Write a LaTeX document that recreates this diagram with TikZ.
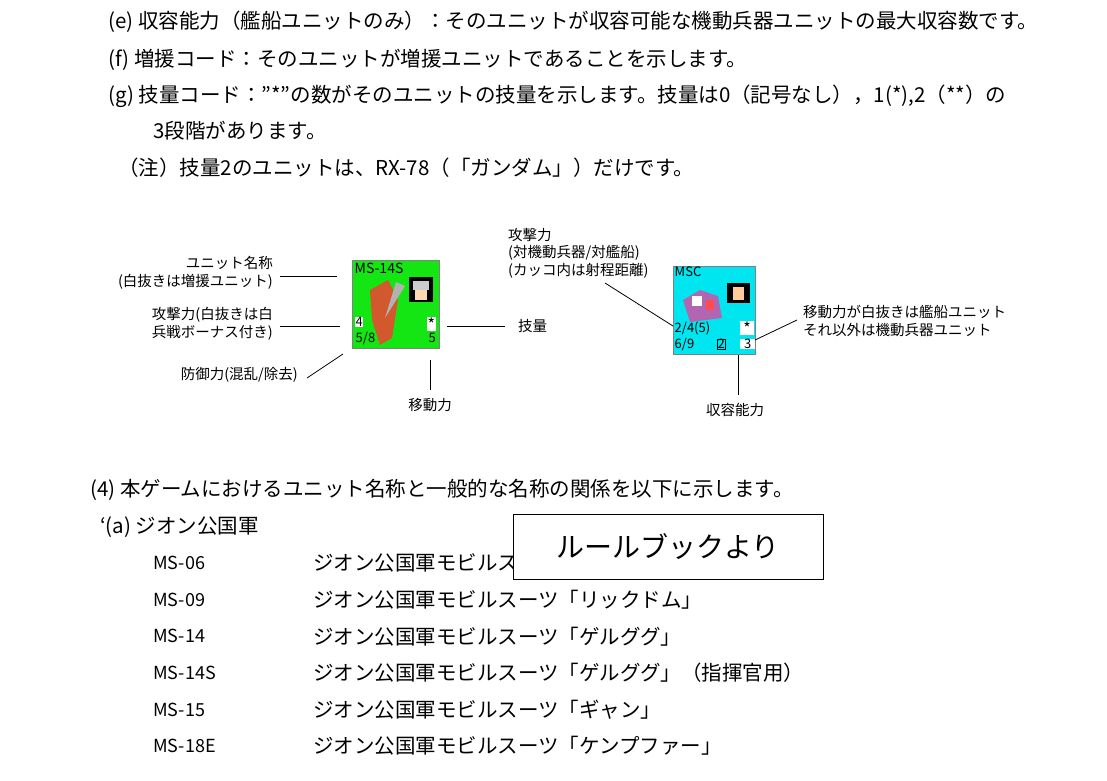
\documentclass[tikz,border=0pt]{standalone}
\usepackage{fontspec}
\setmainfont{Noto Sans CJK JP}
\usetikzlibrary{positioning}
\definecolor{unitgreen}{RGB}{20,230,20}
\definecolor{unitcyan}{RGB}{0,230,240}
\begin{document}
\begin{tikzpicture}[
      x=1pt, y=-1pt,
      body/.style={anchor=west, inner sep=0pt, font=\fontsize{20.5}{22}\selectfont},
      lbl/.style={inner sep=0pt, font=\fontsize{14.5}{17.5}\selectfont, align=left},
      val/.style={anchor=west, inner sep=0.5pt, font=\fontsize{13}{13}\selectfont},
      lead/.style={draw, line width=0.8pt}
    ]
    \useasboundingbox (0,0) rectangle (1107,780);
    % Text of the page
    \node[body] (te) at (108,22) {(e) 収容能力（艦船ユニットのみ）：そのユニットが収容可能な機動兵器ユニットの最大収容数です。};
    \node[body] (tf) at (108,60) {(f) 増援コード：そのユニットが増援ユニットであることを示します。};
    \node[body] (tg) at (108,96) {(g) 技量コード："*"の数がそのユニットの技量を示します。技量は0（記号なし），1(*),2（**）の};
    \node[body] (tg2) at (153,131) {3段階があります。};
    \node[body] (tn) at (118,168) {（注）技量2のユニットは、RX-78（「ガンダム」）だけです。};
    \node[body] (t4) at (90,490) {(4) 本ゲームにおけるユニット名称と一般的な名称の関係を以下に示します。};
    \node[body] (ta) at (100,527) {‘(a) ジオン公国軍};
    \foreach \code/\name [count=\i] in {MS-06/ジオン公国軍モビルスー,
        MS-09/ジオン公国軍モビルスーツ「リックドム」,
        MS-14/ジオン公国軍モビルスーツ「ゲルググ」,
        MS-14S/ジオン公国軍モビルスーツ「ゲルググ」（指揮官用）,
        MS-15/ジオン公国軍モビルスーツ「ギャン」,
        MS-18E/ジオン公国軍モビルスーツ「ケンプファー」} {
      \node[body, font=\fontsize{18}{20}\selectfont] (code\i) at (153,{563+36.6*(\i-1)}) {\code};
      \node[body] (name\i) at (313,{563+36.6*(\i-1)}) {\name};
    }
    \node[draw, fill=white, line width=0.8pt, minimum width=310, minimum height=65,
      font=\fontsize{28}{30}\selectfont] (rulebook) at (668,546.5) {ルールブックより};

    % First counter
    \node[draw=gray, fill=unitgreen, minimum width=87, minimum height=88, inner sep=0pt, anchor=north west] (c1) at (352,260) {};
    \fill[white] ([shift={(0.5,-0.5)}]c1.north west) rectangle ([shift={(-0.5,-15)}]c1.north east);
    \node[val, font=\fontsize{14}{14}\selectfont] (c1name) at (354,268) {MS-14S};
    \fill[black] (409,277) rectangle (433,302);
    \fill[gray!40] (413,281) rectangle (429,290);
    \fill[orange!30] (415,290) rectangle (427,300);
    \fill[brown!70!red] (370,290) -- (388,280) -- (398,300) -- (392,338) -- (380,345) -- (372,320) -- cycle;
    \fill[gray!60] (396,282) -- (405,286) -- (385,318) -- cycle;
    \node[val, fill=white] (c1atk) at (355,322) {4};
    \node[val] (c1def) at (355,338) {5/8};
    \node[val, fill=white, font=\fontsize{16}{16}\selectfont] (c1skl) at (427,324) {*};
    \node[val] (c1mov) at (428,338) {5};
    \node[lbl, align=right, anchor=east] (l1name) at (273,273) {ユニット名称\\(白抜きは増援ユニット)};
    \node[lbl, align=right, anchor=east] (l1atk) at (273,324) {攻撃力(白抜きは白\\兵戦ボーナス付き)};
    \node[lbl, anchor=east] (l1def) at (298,375) {防御力(混乱/除去)};
    \node[lbl, anchor=west] (l1skl) at (518,326) {技量};
    \node[lbl] (l1mov) at (430,405) {移動力};
    \draw[lead] (280,276) -- (337,276);
    \draw[lead] (280,326) -- (340,326);
    \draw[lead] (307,378) -- (343,354);
    \draw[lead] (447,326) -- (505,326);
    \draw[lead] (430,360) -- (430,390);

    % Second counter
    \node[draw=gray, fill=unitcyan, minimum width=82, minimum height=88, inner sep=0pt, anchor=north west] (c2) at (673,266) {};
    \fill[white] ([shift={(0.5,-0.5)}]c2.north west) rectangle ([shift={(-0.5,-11)}]c2.north east);
    \node[val] (c2name) at (674,272) {MSC};
    \fill[black] (727,283) rectangle (750,303);
    \fill[orange!40] (733,287) rectangle (744,300);
    \fill[violet!60] (683,300) -- (700,290) -- (718,296) -- (722,318) -- (690,322) -- cycle;
    \fill[white] (692,296) rectangle (702,306);
    \fill[red!70] (706,300) rectangle (714,310);
    \node[val] (c2atk) at (674,328) {2/4(5)};
    \node[val, fill=white, minimum width=14, font=\fontsize{16}{16}\selectfont] (c2skl) at (740,328) {*};
    \node[val] (c2def) at (674,344) {6/9};
    \node[val, draw=black] (c2cap) at (717,344) {2};
    \node[val, fill=white, minimum width=15, align=right] (c2mov) at (740,344) {\hfill3};
    \node[lbl, anchor=north west, align=left] (l2atk) at (508,228) {攻撃力\\(対機動兵器/対艦船)\\(カッコ内は射程距離)};
    \node[lbl, anchor=west] (l2mov) at (803,321) {移動力が白抜きは艦船ユニット\\それ以外は機動兵器ユニット};
    \node[lbl] (l2cap) at (735,410) {収容能力};
    \draw[lead] (605,283) -- (673,326);
    \draw[lead] (755,340) -- (797,320);
    \draw[lead] (738,355) -- (738,395);
\end{tikzpicture}
\end{document}
